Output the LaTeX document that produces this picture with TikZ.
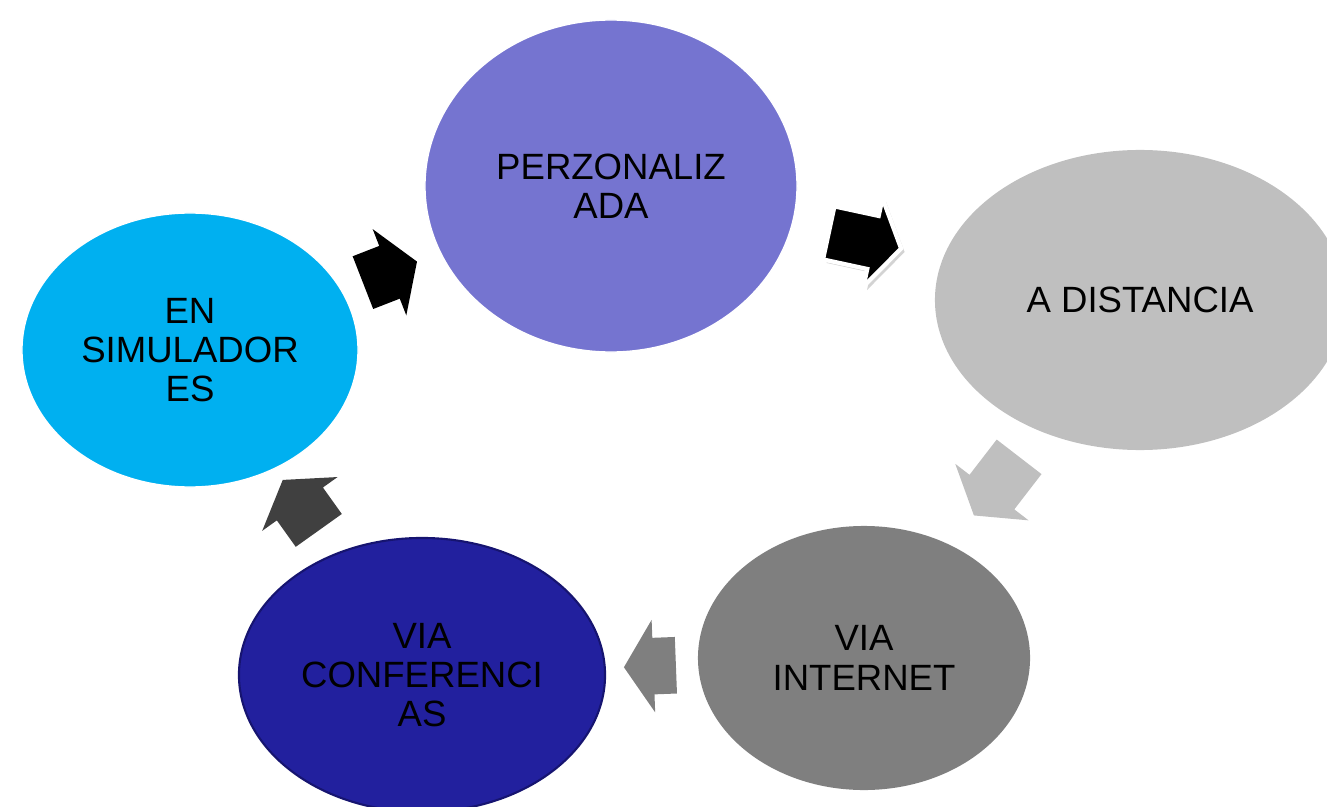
\documentclass[tikz,border=0pt]{standalone}
\usepackage{fontspec}
\setmainfont{Liberation Sans}
\usetikzlibrary{shapes.geometric, shapes.arrows, shadows}

\definecolor{perzcol}{RGB}{117,116,208}
\definecolor{distcol}{RGB}{191,191,191}
\definecolor{netcol}{RGB}{127,127,127}
\definecolor{confcol}{RGB}{34,32,158}
\definecolor{confedge}{RGB}{22,20,112}
\definecolor{simucol}{RGB}{0,176,240}
\definecolor{arrowdark}{RGB}{64,64,64}

\begin{document}
\begin{tikzpicture}[
    x=0.025cm, y=-0.025cm,
    bubble/.style={
        ellipse,
        inner sep=0pt,
        align=center,
        font=\fontsize{26}{28}\selectfont
    },
    blockarrow/.style={
        single arrow,
        single arrow head extend=0.45cm,
        single arrow tip angle=115,
        inner xsep=0pt,
        inner ysep=0.7cm,
        text height=0pt,
        text depth=0pt,
        minimum height=1.6cm,
        sloped,
        allow upside down
    }
]

\useasboundingbox (0,0) rectangle (1327,807);
\clip (0,0) rectangle (1327,807);

\node[bubble, fill=perzcol, draw=white, line width=1pt, minimum width=9.3cm, minimum height=8.3cm] (perz) at (611,186) {PERZONALIZ\\ADA};
\node[bubble, fill=distcol, minimum width=10.25cm, minimum height=7.5cm] (dist) at (1140,300) {A DISTANCIA};
\node[bubble, fill=netcol, minimum width=8.3cm, minimum height=6.6cm] (net) at (864,658) {VIA\\INTERNET};
\node[bubble, fill=confcol, draw=confedge, line width=1.5pt, minimum width=9.15cm, minimum height=6.85cm] (conf) at (422,675) {VIA\\CONFERENCI\\AS};
\node[bubble, fill=simucol, draw=white, line width=1pt, minimum width=8.4cm, minimum height=6.85cm] (simu) at (190,350) {EN\\SIMULADOR\\ES};

\path (simu.center) -- node[blockarrow, pos=0.455, fill=black, minimum height=1.45cm] (arrA) {} (perz.center);
\path (perz.center) -- node[blockarrow, pos=0.464, fill=black, draw=white, line width=3pt, inner ysep=0.625cm, minimum height=1.85cm,
    drop shadow={opacity=0.35, shadow xshift=2.5pt, shadow yshift=-2.5pt}] (arrB) {} (dist.center);
\path (dist.center) -- node[blockarrow, pos=0.5, fill=distcol, minimum height=1.85cm] (arrC) {} (net.center);
\path (net.center) -- node[blockarrow, pos=0.464, fill=netcol, minimum height=1.3cm] (arrD) {} (conf.center);
\path (conf.center) -- node[blockarrow, pos=0.5, fill=arrowdark, minimum height=1.55cm] (arrE) {} (simu.center);

\end{tikzpicture}
\end{document}
